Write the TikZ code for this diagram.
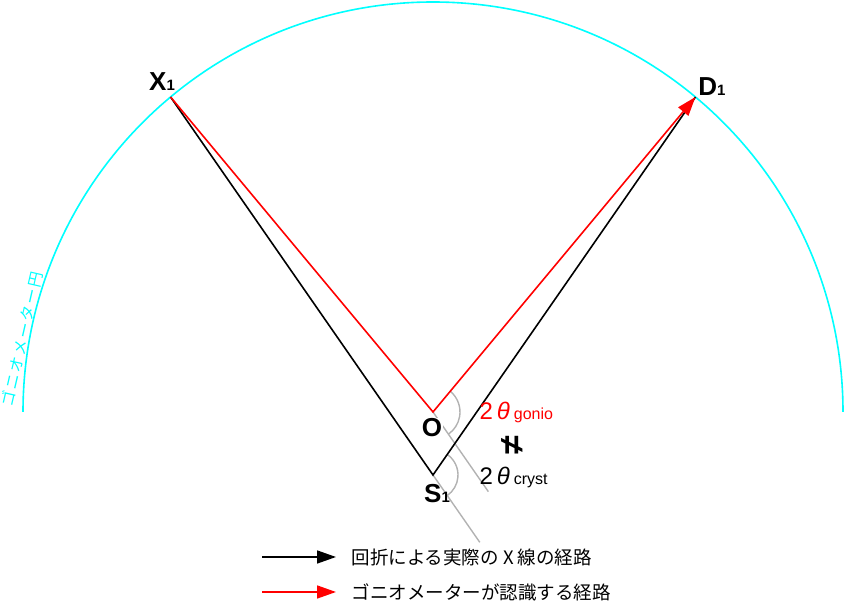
\documentclass[tikz,border=0pt]{standalone}
\usepackage{fontspec}
\setmainfont{Liberation Sans}
\newfontfamily\jpfont{Noto Sans CJK JP}
\newfontfamily\jparcfont[LetterSpace=12]{Noto Sans CJK JP}
\usetikzlibrary{arrows.meta,calc}

\definecolor{goniocyan}{RGB}{0,255,255}

\tikzset{
    beam/.style={line width=1.6pt},
    helper/.style={line width=1.4pt, color=black!30},
    tip/.style={-{Triangle[length=19pt,width=13pt]}},
    ptlabel/.style={font=\bfseries\fontsize{26}{26}\selectfont},
    anglabel/.style={anchor=west, font=\fontsize{24}{24}\selectfont},
    legend/.style={anchor=west, font=\jpfont\fontsize{18.5}{18.5}\selectfont},
}

\begin{document}
\begin{tikzpicture}[x=1pt, y=1pt]
    \useasboundingbox (0,0) rectangle (847,607);

    \coordinate (O) at (433,195);
    \coordinate (S) at (433,132);
    \coordinate (X) at ($(O)+(129.8:410)$);
    \coordinate (D) at ($(O)+(50.2:410)$);

    % goniometer circle
    \draw[goniocyan, line width=1.6pt] ($(O)+(410,0)$) arc (0:180:410);
    \node[goniocyan, rotate=77, font=\jparcfont\fontsize{15.5}{15.5}\selectfont] (circ) at (22,268) {ゴニオメーター円};

    % angle helpers
    \coordinate (Oe) at ($(O)+(-55.2:97)$);
    \coordinate (Se) at ($(S)+(-55.2:82)$);
    \draw[helper] (O) -- (Oe);
    \draw[helper] (S) -- (Se);
    \draw[helper] ($(O)+(50.2:27)$) arc (50.2:-55.2:27);
    \draw[helper] ($(S)+(55.2:25)$) arc (55.2:-55.2:25);

    % beams
    \draw[beam] (X) -- (S) -- (D);
    \draw[beam, red, tip] (X) -- (O) -- (D);

    \node[ptlabel] (xl) at (162,525) {X{\fontsize{15}{15}\selectfont 1}};
    \node[ptlabel] (dl) at (712,520) {D{\fontsize{15}{15}\selectfont 1}};
    \node[ptlabel, fill=white, inner sep=1pt] (ol) at (432,179) {O};
    \node[ptlabel] (sl) at (437,113) {S{\fontsize{15}{15}\selectfont 1}};

    \node[anglabel, red] (gon) at (476,195) {2\,\textit{θ}\,{\fontsize{16}{16}\selectfont gonio}};
    \node[font=\bfseries\fontsize{34}{34}\selectfont] (neq) at (513,162) {\rotatebox{90}{≠}};
    \node[anglabel] (cry) at (476,130) {2\,\textit{θ}\,{\fontsize{16}{16}\selectfont cryst}};

    % legend
    \coordinate (k1) at (262,50);
    \coordinate (k1e) at (336,50);
    \coordinate (k2) at (262,15);
    \coordinate (k2e) at (336,15);
    \draw[beam, tip] (k1) -- (k1e);
    \draw[beam, red, tip] (k2) -- (k2e);
    \node[legend] (l1) at (348,50) {回折による実際の\ X\ 線の経路};
    \node[legend] (l2) at (348,15) {ゴニオメーターが認識する経路};
\end{tikzpicture}
\end{document}
